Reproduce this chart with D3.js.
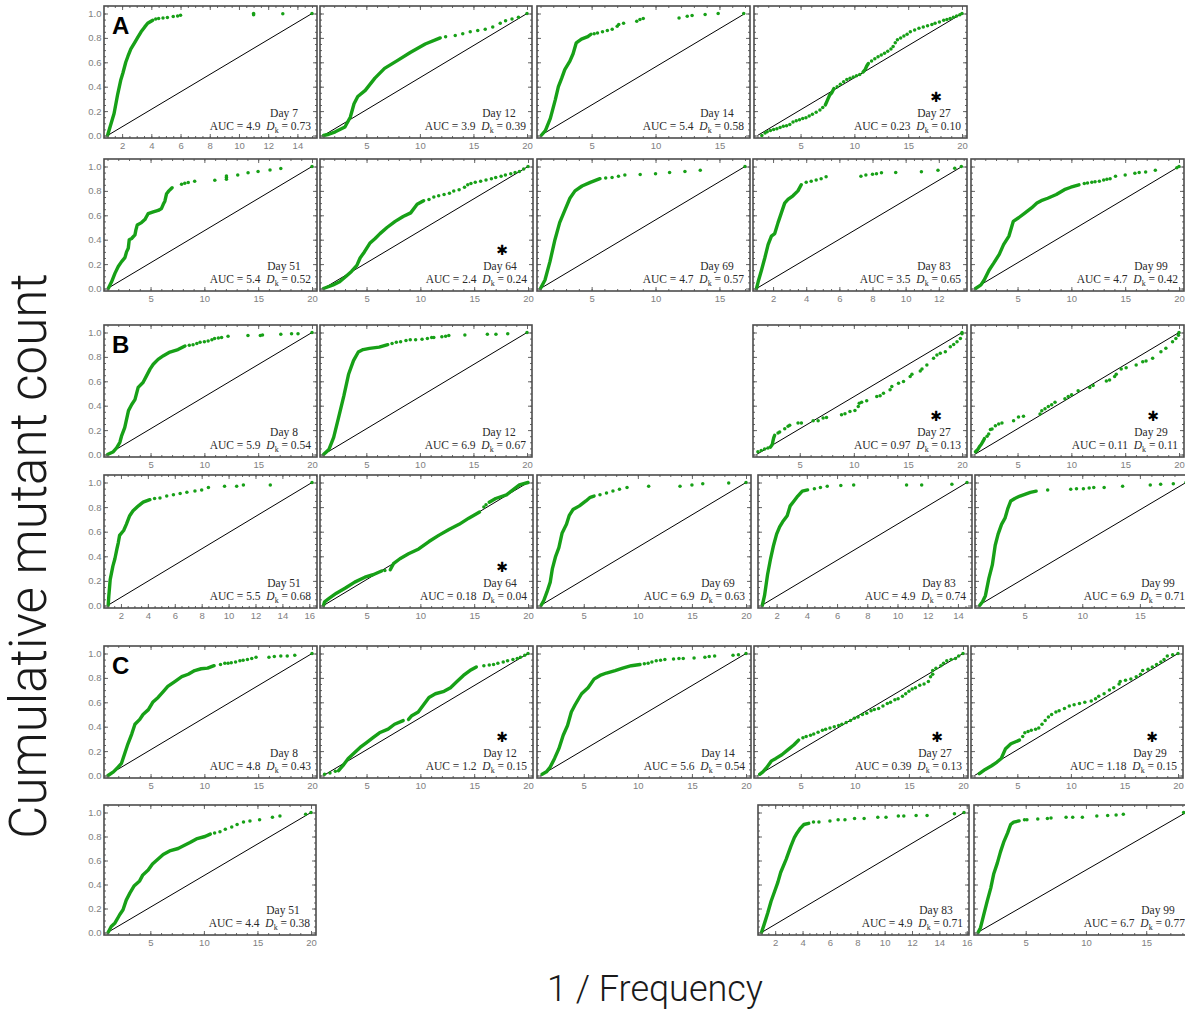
<!DOCTYPE html>
<html>
<head>
<meta charset="utf-8">
<script src="https://cdn.jsdelivr.net/npm/d3@7"></script>
<style>
    body { margin: 0; background: #fff; }
    svg { display: block; }
</style>
</head>
<body>
<svg id="chart" width="1185" height="1010"></svg>
<script>
(function () {
    "use strict";

    // ---- data, one entry per panel in reading order ----
    var groupLabels = ["A", "", "", "",  "", "", "", "", "",  "B", "", "", "",  "", "", "", "", "",  "C", "", "", "", "",  "", "", ""];
    var days = [7, 12, 14, 27,  51, 64, 69, 83, 99,  8, 12, 27, 29,  51, 64, 69, 83, 99,  8, 12, 14, 27, 29,  51, 83, 99];
    var aucText = ["4.9", "3.9", "5.4", "0.23",  "5.4", "2.4", "4.7", "3.5", "4.7",  "5.9", "6.9", "0.97", "0.11",
        "5.5", "0.18", "6.9", "4.9", "6.9",  "4.8", "1.2", "5.6", "0.39", "1.18",  "4.4", "4.9", "6.7"];
    var dkText = ["0.73", "0.39", "0.58", "0.10",  "0.52", "0.24", "0.57", "0.65", "0.42",  "0.54", "0.67", "0.13", "0.11",
        "0.68", "0.04", "0.63", "0.74", "0.71",  "0.43", "0.15", "0.54", "0.13", "0.15",  "0.38", "0.71", "0.77"];
    var starred = [0, 0, 0, 1,  0, 1, 0, 0, 0,  0, 0, 1, 1,  0, 1, 0, 0, 0,  0, 1, 0, 1, 1,  0, 0, 0];
    var xMax = [15, 20, 17, 20,  20, 20, 17, 13.4, 20,  20, 20, 20, 20,  16.2, 20, 20, 14.6, 19,  20, 20, 20, 20, 20,  20, 15.8, 18.3];
    var xTickStep = [2, 5, 5, 5,  5, 5, 5, 2, 5,  5, 5, 5, 5,  2, 5, 5, 2, 5,  5, 5, 5, 5, 5,  5, 2, 5];
    var yTicks = [0, 0.2, 0.4, 0.6, 0.8, 1.0];

    // dense parts of each curve (drawn as thick runs of points)
    var curveLines = [
        [[[1, 0], [1.2, 0.08], [1.45, 0.18], [1.7, 0.34], [1.9, 0.45], [2.05, 0.51], [2.25, 0.6], [2.4, 0.65], [2.6, 0.71], [2.85, 0.76], [3.05, 0.8], [3.3, 0.85], [3.55, 0.89], [3.75, 0.92], [4.1, 0.945]]],
        [[[1, 0], [1.5, 0.01], [2.1, 0.03], [3, 0.07], [3.5, 0.15], [3.85, 0.26], [4.2, 0.32], [4.9, 0.37], [5.8, 0.47], [6.7, 0.55], [8, 0.62], [9.1, 0.68], [10.5, 0.75], [11.9, 0.8]]],
        [[[1.05, 0], [1.38, 0.04], [1.77, 0.14], [2.15, 0.29], [2.4, 0.4], [2.66, 0.47], [2.9, 0.54], [3.3, 0.61], [3.55, 0.67], [3.8, 0.76], [4.2, 0.79], [4.7, 0.81], [4.95, 0.83]]],
        [[[7.3, 0.25], [7.45, 0.28], [7.55, 0.3], [7.7, 0.33], [7.9, 0.35], [8.1, 0.385]], [[10.8, 0.52], [11.0, 0.54], [11.15, 0.57], [11.3, 0.59]]],
        [[[1.07, 0], [1.38, 0.055], [1.69, 0.124], [2.0, 0.18], [2.31, 0.22], [2.62, 0.253], [2.77, 0.3], [2.93, 0.33], [3.02, 0.4], [3.24, 0.41], [3.55, 0.44], [3.64, 0.48], [3.76, 0.52], [4.16, 0.54], [4.47, 0.565], [4.63, 0.59], [4.78, 0.614], [5.25, 0.628], [5.71, 0.64], [6.02, 0.656], [6.18, 0.69], [6.33, 0.716], [6.49, 0.777], [6.7, 0.8], [7.0, 0.826]]],
        [[[1, 0], [1.9, 0.03], [2.5, 0.055], [3.1, 0.1], [3.6, 0.14], [4.1, 0.19], [4.4, 0.25], [4.8, 0.3], [5.3, 0.37], [5.8, 0.41], [6.25, 0.45], [6.9, 0.5], [7.66, 0.55], [8.4, 0.59], [9.1, 0.62], [9.7, 0.69], [10.3, 0.72]]],
        [[[1, 0], [1.35, 0.07], [1.74, 0.22], [2.13, 0.4], [2.5, 0.54], [2.9, 0.64], [3.3, 0.74], [3.7, 0.8], [4.25, 0.84], [4.9, 0.87], [5.65, 0.9]]],
        [[[1, 0], [1.1, 0.055], [1.3, 0.15], [1.5, 0.25], [1.7, 0.36], [1.9, 0.43], [2.1, 0.45], [2.3, 0.54], [2.5, 0.62], [2.7, 0.7], [2.9, 0.73], [3.2, 0.76], [3.5, 0.8], [3.7, 0.85]]],
        [[[1.1, 0], [1.6, 0.03], [1.9, 0.07], [2.35, 0.15], [2.8, 0.21], [3.3, 0.28], [3.7, 0.36], [4.2, 0.43], [4.6, 0.55], [5.1, 0.58], [5.7, 0.62], [6.3, 0.66], [6.8, 0.7], [7.2, 0.72], [7.8, 0.74], [8.6, 0.77], [9.35, 0.81], [9.95, 0.83], [10.7, 0.85]]],
        [[[1, 0], [1.5, 0.02], [1.85, 0.055], [2.15, 0.1], [2.3, 0.15], [2.6, 0.22], [2.95, 0.36], [3.25, 0.41], [3.55, 0.45], [3.85, 0.55], [4.3, 0.59], [4.6, 0.64], [4.95, 0.7], [5.25, 0.74], [5.7, 0.78], [6.2, 0.81], [6.8, 0.84], [7.55, 0.86], [8.2, 0.89]]],
        [[[1, 0], [1.5, 0.04], [1.95, 0.14], [2.4, 0.3], [2.9, 0.48], [3.35, 0.66], [3.8, 0.77], [4.25, 0.84], [4.7, 0.86], [5.3, 0.87], [6.2, 0.88], [7.0, 0.9]]],
        [[[2.28, 0.06], [2.46, 0.082], [2.52, 0.109], [2.59, 0.136], [2.68, 0.158]]],
        [[[1.09, 0.022], [1.31, 0.041], [1.49, 0.068], [1.62, 0.082], [1.8, 0.109], [1.92, 0.13]]],
        [[[1.05, 0], [1.1, 0.08], [1.2, 0.21], [1.4, 0.32], [1.55, 0.38], [1.7, 0.46], [1.8, 0.51], [1.9, 0.57], [2.2, 0.61], [2.4, 0.66], [2.65, 0.73], [2.9, 0.77], [3.3, 0.81], [3.65, 0.84], [4.15, 0.86]]],
        [[[1, 0], [1.1, 0.03], [1.55, 0.06], [2.2, 0.1], [3.0, 0.14], [3.9, 0.19], [4.85, 0.23], [5.6, 0.25], [6.4, 0.28]], [[7.2, 0.29], [7.5, 0.34], [8.1, 0.38], [8.9, 0.42], [9.85, 0.46], [10.8, 0.52], [11.7, 0.57], [12.7, 0.62], [13.6, 0.66], [14.5, 0.71], [15.5, 0.76]], [[16.4, 0.84], [17.0, 0.87], [18.0, 0.9], [18.6, 0.94], [19.2, 0.98], [20, 1]]],
        [[[1.05, 0], [1.3, 0.04], [1.6, 0.11], [1.9, 0.19], [2.1, 0.3], [2.4, 0.4], [2.7, 0.47], [3.0, 0.59], [3.4, 0.66], [3.65, 0.73], [4.0, 0.78], [4.6, 0.81], [5.2, 0.85], [5.6, 0.88], [5.95, 0.89]]],
        [[[1.05, 0], [1.2, 0.08], [1.4, 0.25], [1.6, 0.38], [1.8, 0.49], [2.0, 0.58], [2.2, 0.64], [2.4, 0.68], [2.7, 0.73], [2.9, 0.81], [3.15, 0.85], [3.4, 0.89], [3.7, 0.93], [4.05, 0.94]]],
        [[[1.1, 0], [1.35, 0.03], [1.6, 0.08], [1.9, 0.22], [2.2, 0.33], [2.45, 0.49], [2.7, 0.58], [3.0, 0.66], [3.3, 0.71], [3.55, 0.79], [3.8, 0.85], [4.15, 0.87], [4.6, 0.89], [5.2, 0.91], [5.5, 0.92], [6.0, 0.93]]],
        [[[1.05, 0], [1.55, 0.03], [2.0, 0.07], [2.3, 0.1], [2.6, 0.18], [2.9, 0.26], [3.25, 0.34], [3.55, 0.42], [4.0, 0.46], [4.3, 0.5], [4.8, 0.54], [5.2, 0.6], [5.7, 0.64], [6.2, 0.69], [6.6, 0.73], [7.25, 0.77], [7.9, 0.81], [8.5, 0.83], [9.1, 0.86], [9.7, 0.875], [10.3, 0.88], [10.9, 0.9]]],
        [[[2.4, 0.04], [2.8, 0.08], [3.3, 0.14], [3.8, 0.18], [4.4, 0.23], [5.0, 0.27], [5.6, 0.31], [6.2, 0.35], [7.0, 0.38], [7.6, 0.42], [8.4, 0.45]], [[8.9, 0.46], [9.2, 0.49], [9.8, 0.52], [10.3, 0.58], [10.8, 0.64], [11.4, 0.67], [12.2, 0.69], [12.8, 0.72], [13.4, 0.77], [14.0, 0.82], [14.6, 0.86], [15.2, 0.89]]],
        [[[1.15, 0.01], [1.55, 0.03], [1.9, 0.07], [2.3, 0.14], [2.7, 0.22], [3.1, 0.33], [3.5, 0.41], [3.85, 0.52], [4.2, 0.58], [4.8, 0.67], [5.4, 0.72], [5.95, 0.79], [6.5, 0.82], [7.1, 0.84], [7.9, 0.86], [8.6, 0.88], [9.4, 0.9], [10.2, 0.91]]],
        [[[1.2, 0.01], [1.5, 0.03], [1.8, 0.06], [2.05, 0.09], [2.3, 0.12], [2.7, 0.14], [3.25, 0.17], [3.8, 0.21], [4.35, 0.25], [4.8, 0.29]]],
        [[[1.45, 0.015], [2.0, 0.05], [2.6, 0.08], [3.1, 0.11], [3.5, 0.14], [3.9, 0.22], [4.4, 0.26], [5.2, 0.29]]],
        [[[1.05, 0], [1.35, 0.05], [1.7, 0.08], [2.15, 0.15], [2.45, 0.19], [2.75, 0.27], [3.1, 0.33], [3.5, 0.39], [4.0, 0.43], [4.3, 0.48], [4.8, 0.52], [5.2, 0.57], [5.7, 0.61], [6.2, 0.65], [6.8, 0.68], [7.6, 0.7], [8.05, 0.72], [8.7, 0.75], [9.3, 0.78], [10.1, 0.8], [10.6, 0.82]]],
        [[[1.0, 0], [1.2, 0.07], [1.45, 0.16], [1.7, 0.26], [1.95, 0.34], [2.2, 0.42], [2.4, 0.5], [2.8, 0.61], [3.15, 0.72], [3.4, 0.79], [3.6, 0.83], [3.85, 0.87], [4.1, 0.9], [4.45, 0.91]]],
        [[[1.05, 0], [1.25, 0.04], [1.5, 0.14], [1.8, 0.26], [2.1, 0.37], [2.35, 0.49], [2.65, 0.58], [2.9, 0.67], [3.2, 0.76], [3.5, 0.83], [3.75, 0.9], [4.0, 0.92], [4.45, 0.93]]]
    ];

    // separate points of each curve
    var curveDots = [
        [[4.3, 0.955], [4.5, 0.96], [4.8, 0.963], [5.1, 0.967], [5.5, 0.975], [5.8, 0.98], [6.0, 0.985], [11, 0.99], [11, 1.0], [13, 0.997], [15, 1.0]],
        [[12.4, 0.81], [13.3, 0.82], [14, 0.835], [14.7, 0.85], [15.4, 0.86], [16.1, 0.87], [16.8, 0.89], [17.5, 0.92], [18, 0.94], [18.6, 0.955], [19.2, 0.97], [20, 1]],
        [[5.2, 0.835], [5.46, 0.84], [5.85, 0.85], [6.23, 0.86], [6.61, 0.87], [7.0, 0.895], [7.12, 0.91], [7.5, 0.92], [8.53, 0.937], [8.78, 0.95], [9.04, 0.96], [11.84, 0.964], [12.48, 0.978], [12.86, 0.983], [13.88, 0.992], [14.9, 1.0], [16.9, 1.0]],
        [[1.4, 0], [1.7, 0.02], [1.9, 0.03], [2.2, 0.04], [2.5, 0.05], [2.8, 0.055], [3.1, 0.065], [3.4, 0.075], [3.7, 0.08], [4.0, 0.09], [4.3, 0.11], [4.6, 0.12], [4.9, 0.13], [5.2, 0.14], [5.5, 0.146], [5.8, 0.16], [6.1, 0.175], [6.45, 0.19], [6.8, 0.21], [7.06, 0.23], [8.4, 0.4], [8.7, 0.42], [9.0, 0.44], [9.3, 0.46], [9.6, 0.47], [9.9, 0.48], [10.2, 0.49], [10.5, 0.5], [11.6, 0.61], [11.9, 0.63], [12.2, 0.645], [12.5, 0.66], [12.8, 0.675], [13.1, 0.69], [13.4, 0.71], [13.6, 0.73], [13.8, 0.76], [14.0, 0.785], [14.3, 0.8], [14.6, 0.815], [14.9, 0.83], [15.2, 0.85], [15.6, 0.865], [16.0, 0.88], [16.4, 0.89], [16.8, 0.9], [17.2, 0.91], [17.5, 0.92], [17.9, 0.93], [18.3, 0.945], [18.6, 0.95], [18.9, 0.96], [19.2, 0.97], [19.5, 0.98], [19.8, 0.99], [20, 1]],
        [[7.88, 0.854], [8.18, 0.862], [8.5, 0.868], [9.1, 0.88], [10.97, 0.887], [12.05, 0.923], [12.05, 0.91], [12.05, 0.895], [13.1, 0.93], [14.06, 0.948], [14.99, 0.959], [16.1, 0.972], [17.1, 0.983], [20, 1]],
        [[10.8, 0.73], [11.25, 0.75], [11.7, 0.76], [12.2, 0.77], [12.7, 0.78], [13.1, 0.8], [13.6, 0.81], [14.1, 0.83], [14.4, 0.85], [14.7, 0.86], [15.1, 0.87], [15.6, 0.88], [16.1, 0.89], [16.6, 0.9], [17.0, 0.91], [17.5, 0.92], [17.9, 0.93], [18.4, 0.94], [18.8, 0.95], [19.2, 0.96], [19.6, 0.98], [20, 1]],
        [[6.1, 0.905], [6.6, 0.91], [7.1, 0.92], [7.6, 0.93], [8.8, 0.935], [10, 0.94], [11.1, 0.95], [12.3, 0.96], [13.5, 0.97], [17, 1]],
        [[4.0, 0.87], [4.3, 0.88], [4.6, 0.89], [4.9, 0.9], [5.2, 0.915], [7.3, 0.92], [7.6, 0.93], [8.0, 0.937], [8.24, 0.94], [8.54, 0.948], [9.4, 0.95], [10.95, 0.956], [11.95, 0.97], [12.96, 0.986], [13.36, 1]],
        [[11.2, 0.86], [11.5, 0.865], [11.9, 0.87], [12.2, 0.875], [12.6, 0.88], [13.0, 0.89], [13.3, 0.895], [13.6, 0.9], [14.1, 0.92], [15.0, 0.93], [15.9, 0.945], [16.3, 0.95], [16.9, 0.955], [17.8, 0.97], [19.8, 0.99], [20, 1]],
        [[8.6, 0.895], [8.95, 0.9], [9.3, 0.91], [9.6, 0.92], [10.0, 0.925], [10.35, 0.93], [10.7, 0.94], [10.95, 0.95], [11.3, 0.955], [11.6, 0.96], [12.2, 0.97], [14.05, 0.975], [15.2, 0.975], [15.4, 0.98], [17.1, 0.985], [18.1, 0.99], [18.7, 0.99], [20, 1]],
        [[7.4, 0.91], [7.8, 0.92], [8.2, 0.925], [8.7, 0.935], [9.1, 0.94], [9.6, 0.94], [10.2, 0.945], [10.7, 0.95], [11.1, 0.96], [11.3, 0.96], [12.05, 0.965], [12.4, 0.97], [12.7, 0.975], [14.2, 0.98], [16.3, 0.985], [17.1, 0.985], [18.2, 0.99], [20, 1]],
        [[1.13, 0.022], [1.44, 0.033], [1.75, 0.046], [2.06, 0.054], [2.99, 0.177], [3.14, 0.185], [3.61, 0.212], [3.92, 0.231], [4.07, 0.239], [4.84, 0.258], [5.15, 0.258], [6.24, 0.277], [6.7, 0.277], [7.16, 0.299], [7.47, 0.304], [8.86, 0.326], [9.18, 0.334], [9.64, 0.353], [10.1, 0.361], [10.41, 0.394], [10.5, 0.421], [10.72, 0.429], [11.19, 0.44], [12.12, 0.476], [12.43, 0.481], [12.74, 0.503], [13.35, 0.53], [13.51, 0.557], [14.13, 0.584], [14.59, 0.598], [15.21, 0.639], [15.37, 0.658], [16.14, 0.685], [16.3, 0.701], [16.75, 0.734], [17.37, 0.788], [17.68, 0.815], [17.99, 0.829], [18.46, 0.842], [18.92, 0.883], [19.23, 0.902], [19.54, 0.924], [19.85, 0.951], [20, 0.99], [20, 1]],
        [[2.17, 0.149], [2.32, 0.168], [2.48, 0.204], [2.63, 0.209], [2.94, 0.236], [3.25, 0.25], [3.55, 0.258], [4.63, 0.277], [5.09, 0.307], [5.55, 0.313], [7.09, 0.332], [7.25, 0.359], [7.55, 0.375], [7.86, 0.394], [8.17, 0.408], [8.48, 0.429], [9.4, 0.457], [9.71, 0.476], [10.02, 0.489], [10.63, 0.522], [11.71, 0.549], [12.02, 0.565], [13.25, 0.603], [13.55, 0.611], [14.02, 0.639], [14.17, 0.658], [14.63, 0.701], [15.09, 0.712], [16.02, 0.734], [16.63, 0.761], [16.94, 0.766], [17.55, 0.788], [18.32, 0.842], [18.78, 0.87], [19.4, 0.924], [19.71, 0.951], [19.95, 0.978], [20, 1]],
        [[4.5, 0.87], [4.9, 0.875], [5.4, 0.89], [5.9, 0.9], [6.4, 0.91], [6.9, 0.92], [7.5, 0.93], [8.0, 0.94], [8.5, 0.96], [9.7, 0.97], [10.6, 0.97], [11.1, 0.98], [13.1, 0.98], [16.2, 1]],
        [[6.7, 0.285], [15.9, 0.8], [16.1, 0.82]],
        [[6.5, 0.9], [7.1, 0.915], [7.7, 0.93], [8.3, 0.945], [9.0, 0.96], [11.0, 0.97], [13.9, 0.97], [15.0, 0.98], [16.0, 0.99], [18.4, 0.995], [20, 1]],
        [[4.5, 0.95], [4.9, 0.96], [5.35, 0.97], [6.25, 0.975], [7.1, 0.98], [10.6, 0.98], [11.6, 0.98], [13.6, 0.985], [14.6, 1]],
        [[7.0, 0.94], [9.0, 0.945], [9.5, 0.95], [10.1, 0.95], [10.6, 0.955], [11.0, 0.96], [11.9, 0.96], [13.5, 0.97], [15.9, 0.98], [16.8, 0.985], [17.9, 0.99], [19, 1]],
        [[11.5, 0.91], [11.9, 0.92], [12.2, 0.92], [12.5, 0.925], [12.9, 0.93], [13.3, 0.94], [13.6, 0.945], [14.0, 0.95], [14.4, 0.96], [14.8, 0.97], [16.0, 0.97], [16.5, 0.975], [17.1, 0.98], [17.7, 0.98], [18.4, 0.985], [20, 1]],
        [[1.1, 0.01], [1.6, 0.02], [2.1, 0.035], [15.9, 0.9], [16.4, 0.905], [16.8, 0.91], [17.2, 0.92], [17.7, 0.93], [18.1, 0.94], [18.6, 0.95], [19.0, 0.96], [19.3, 0.97], [19.7, 0.985], [20, 1]],
        [[10.6, 0.915], [10.95, 0.92], [11.3, 0.93], [11.7, 0.94], [12.1, 0.945], [12.5, 0.95], [13.3, 0.955], [13.8, 0.96], [14.2, 0.96], [15.2, 0.963], [16.2, 0.97], [16.6, 0.975], [17.1, 0.98], [18.8, 0.985], [19.3, 0.99], [20, 1]],
        [[5.2, 0.31], [5.5, 0.32], [5.9, 0.33], [6.2, 0.34], [6.6, 0.355], [7.0, 0.37], [7.3, 0.38], [7.7, 0.39], [8.1, 0.4], [8.5, 0.41], [8.8, 0.42], [9.2, 0.435], [9.6, 0.45], [9.95, 0.47], [10.3, 0.48], [10.7, 0.5], [11.1, 0.51], [11.5, 0.53], [11.8, 0.54], [12.2, 0.55], [12.6, 0.57], [13.0, 0.59], [13.3, 0.6], [13.7, 0.62], [14.0, 0.63], [14.4, 0.65], [14.7, 0.67], [15.0, 0.69], [15.3, 0.71], [15.6, 0.72], [16.0, 0.74], [16.4, 0.75], [16.8, 0.77], [17.0, 0.81], [17.2, 0.83], [17.2, 0.86], [17.5, 0.88], [17.95, 0.9], [18.2, 0.92], [18.5, 0.94], [18.9, 0.95], [19.3, 0.96], [19.6, 0.98], [20, 1]],
        [[5.5, 0.32], [5.7, 0.35], [6.0, 0.36], [6.3, 0.37], [6.7, 0.38], [7.0, 0.39], [7.3, 0.42], [7.6, 0.45], [7.9, 0.48], [8.2, 0.5], [8.6, 0.52], [8.9, 0.53], [9.4, 0.55], [9.85, 0.57], [10.3, 0.58], [10.8, 0.59], [11.3, 0.6], [11.9, 0.61], [12.3, 0.63], [12.6, 0.65], [13.1, 0.67], [13.6, 0.7], [14.0, 0.72], [14.5, 0.75], [14.6, 0.77], [15.1, 0.78], [15.6, 0.79], [16.1, 0.81], [16.5, 0.83], [16.7, 0.86], [17.2, 0.87], [17.6, 0.89], [18.0, 0.91], [18.4, 0.93], [18.7, 0.95], [19.0, 0.98], [19.5, 0.99], [20, 1]],
        [[11.0, 0.83], [11.5, 0.84], [12.0, 0.86], [12.6, 0.88], [13.1, 0.9], [13.7, 0.92], [14.3, 0.93], [15.2, 0.94], [16.4, 0.96], [17.1, 0.97], [19.5, 0.985], [20, 1]],
        [[4.8, 0.92], [5.2, 0.92], [6.0, 0.93], [6.6, 0.94], [7.1, 0.94], [7.8, 0.95], [8.5, 0.95], [9.5, 0.96], [10.1, 0.96], [11.0, 0.97], [11.4, 0.97], [12.3, 0.975], [13.1, 0.975], [15.1, 0.99], [15.8, 1]],
        [[4.9, 0.94], [5.1, 0.94], [6.0, 0.945], [6.8, 0.95], [7.1, 0.955], [8.35, 0.96], [8.9, 0.96], [9.7, 0.96], [10.9, 0.97], [11.8, 0.975], [12.5, 0.98], [13.1, 0.985], [18.1, 1]]
    ];

    // ---- layout: panel slot = [row, frame left, frame right] ----
    var rowTop = [6, 159, 325, 475, 646, 805];
    var rowBottom = [138, 291, 457, 608, 778, 935];
    var slots = [
        [0, 104, 317], [0, 320, 532], [0, 537, 750], [0, 754, 967],
        [1, 104, 317], [1, 320, 533], [1, 537, 750], [1, 753, 967], [1, 971, 1184],
        [2, 104, 317], [2, 320, 532], [2, 753, 967], [2, 971, 1184],
        [3, 104, 317], [3, 320, 533], [3, 537, 751], [3, 758, 972], [3, 975, 1191],
        [4, 104, 317], [4, 320, 533], [4, 537, 751], [4, 754, 968], [4, 971, 1183],
        [5, 104, 316], [5, 758, 969], [5, 974, 1191]
    ];

    var green = '#17a017';
    var svg = d3.select('#chart');
    var defs = svg.append('defs');

    function minorValues(step, hi) {
        var sub = step === 2 ? 0.5 : 1;
        return d3.range(1, hi + 0.001, sub);
    }

    days.forEach(function (day, i) {
        var slot = slots[i];
        var L = slot[1], R = slot[2], T = rowTop[slot[0]], B = rowBottom[slot[0]];
        var x = d3.scaleLinear().domain([1, xMax[i]]).range([L + 3.5, R - 5]);
        var y = d3.scaleLinear().domain([0, 1]).range([B - 2.5, T + 7.5]);
        var xLo = x.invert(L), xHi = x.invert(R);

        var g = svg.append('g').attr('class', 'panel');

        defs.append('clipPath').attr('id', 'clip' + i)
            .append('rect').attr('x', L).attr('y', T).attr('width', R - L).attr('height', B - T);

        var plot = g.append('g').attr('clip-path', 'url(#clip' + i + ')');

        plot.append('line')
            .attr('x1', x(1)).attr('y1', y(0))
            .attr('x2', x(xMax[i])).attr('y2', y(1))
            .attr('stroke', '#000').attr('stroke-width', 1);

        var line = d3.line().x(function (d) { return x(d[0]); }).y(function (d) { return y(d[1]); });

        plot.selectAll('path.curve')
            .data(curveLines[i])
            .enter().append('path')
            .attr('class', 'curve')
            .attr('d', line)
            .attr('fill', 'none')
            .attr('stroke', green)
            .attr('stroke-width', 3.4)
            .attr('stroke-linejoin', 'round')
            .attr('stroke-linecap', 'round');

        plot.selectAll('circle')
            .data(curveDots[i])
            .enter().append('circle')
            .attr('cx', function (d) { return x(d[0]); })
            .attr('cy', function (d) { return y(d[1]); })
            .attr('r', 1.75)
            .attr('fill', green);

        // frame ticks (inward) on all four sides
        var majorX = d3.range(xTickStep[i], xHi, xTickStep[i]).filter(function (v) { return v > xLo; });
        var minorX = minorValues(xTickStep[i], xHi).filter(function (v) { return v > xLo && v < xHi; });
        var minorY = d3.range(0, 1.0001, 0.05);

        function tickAxis(axis, tx, ty) {
            var a = g.append('g').attr('transform', 'translate(' + tx + ',' + ty + ')').call(axis);
            a.select('.domain').remove();
            a.selectAll('line').attr('stroke', '#666');
            return a;
        }

        tickAxis(d3.axisBottom(x).tickValues(minorX).tickSize(-2).tickFormat(''), 0, B);
        tickAxis(d3.axisTop(x).tickValues(minorX).tickSize(-2).tickFormat(''), 0, T);
        tickAxis(d3.axisTop(x).tickValues(majorX).tickSize(-4).tickFormat(''), 0, T);
        tickAxis(d3.axisLeft(y).tickValues(minorY).tickSize(-2).tickFormat(''), L, 0);
        tickAxis(d3.axisRight(y).tickValues(minorY).tickSize(-2).tickFormat(''), R, 0);
        tickAxis(d3.axisRight(y).tickValues(yTicks).tickSize(-4).tickFormat(''), R, 0);

        var xa = tickAxis(d3.axisBottom(x).tickValues(majorX).tickSize(-4).tickPadding(4).tickFormat(d3.format('d')), 0, B);
        xa.selectAll('text').attr('fill', '#808080').attr('font-size', '9.5px')
            .attr('font-family', 'Liberation Sans, Arial, sans-serif');

        var ya = tickAxis(d3.axisLeft(y).tickValues(yTicks).tickSize(-4).tickPadding(2.5)
            .tickFormat(slot[1] === 104 ? d3.format('.1f') : ''), L, 0);
        ya.selectAll('text').attr('fill', '#808080').attr('font-size', '9.5px')
            .attr('font-family', 'Liberation Sans, Arial, sans-serif');

        g.append('rect')
            .attr('x', L).attr('y', T).attr('width', R - L).attr('height', B - T)
            .attr('fill', 'none').attr('stroke', '#4d4d4d').attr('stroke-width', 1.6);

        // annotations
        var serif = 'Liberation Serif, Times New Roman, serif';
        g.append('text')
            .attr('x', R - 33).attr('y', B - 21)
            .attr('text-anchor', 'middle')
            .attr('font-family', serif).attr('font-size', '11.5px').attr('fill', '#2a2a2a')
            .text('Day ' + day);

        var ann = g.append('text')
            .attr('x', R - 6).attr('y', B - 8)
            .attr('text-anchor', 'end')
            .attr('font-family', serif).attr('font-size', '11.5px').attr('fill', '#2a2a2a')
            .attr('xml:space', 'preserve');
        ann.append('tspan').text('AUC = ' + aucText[i] + '  ');
        ann.append('tspan').attr('font-style', 'italic').text('D');
        ann.append('tspan').attr('font-size', '8px').attr('dy', 2.5).text('k');
        ann.append('tspan').attr('dy', -2.5).text(' = ' + dkText[i]);

        if (starred[i]) {
            g.append('text')
                .attr('x', R - 31).attr('y', B - 36)
                .attr('text-anchor', 'middle')
                .attr('font-family', 'DejaVu Sans, sans-serif')
                .attr('font-size', '14px')
                .attr('fill', '#000')
                .text('\u2731');
        }

        if (groupLabels[i]) {
            g.append('text')
                .attr('x', L + 8).attr('y', T + 28)
                .attr('font-family', 'Liberation Sans, Arial, sans-serif')
                .attr('font-weight', 'bold').attr('font-size', '24px')
                .attr('fill', '#000')
                .text(groupLabels[i]);
        }
    });

    // axis titles
    svg.append('text')
        .attr('transform', 'translate(46,556) rotate(-90)')
        .attr('text-anchor', 'middle')
        .attr('font-family', 'Roboto, Liberation Sans, sans-serif')
        .attr('font-weight', 300)
        .attr('font-size', '51px')
        .attr('fill', '#1a1a1a')
        .text('Cumulative mutant count');

    svg.append('text')
        .attr('x', 655).attr('y', 1001)
        .attr('text-anchor', 'middle')
        .attr('font-family', 'Roboto, Liberation Sans, sans-serif')
        .attr('font-weight', 300)
        .attr('font-size', '36px')
        .attr('fill', '#1a1a1a')
        .text('1 / Frequency');
})();
</script>
</body>
</html>
